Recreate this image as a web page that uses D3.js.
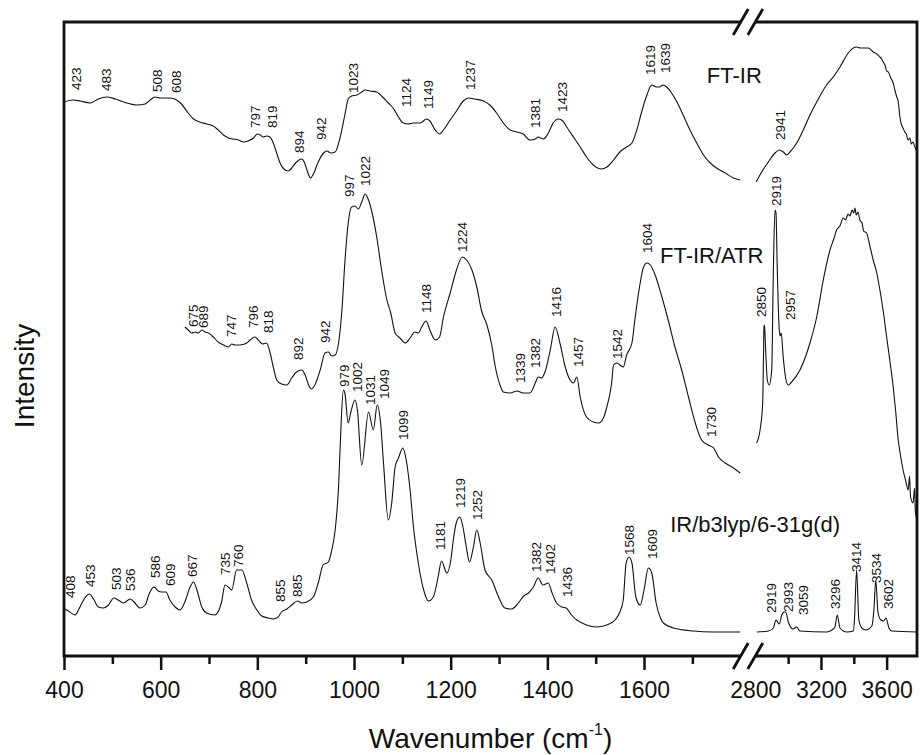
<!DOCTYPE html>
<html>
<head>
<meta charset="utf-8">
<script src="https://cdn.jsdelivr.net/npm/d3@7"></script>
<style>
  body { margin: 0; background: #fff; }
  svg { display: block; }
  text { font-family: Arial, "Liberation Sans", sans-serif; fill: #111; }
</style>
</head>
<body>
<svg id="chart" width="922" height="755"></svg>
<script>
// spectra: [wavenumber, intensity (arb. units)]
const ftir = [[400,554],[419,556],[433,555],[454,553],[471,557],[488,559],[506,557],[530,553],[550,551],[568,552],[581,557],[588,559],[599,558],[619,558],[633,556],[643,552],[657,543],[668,537],[681,534],[695,532],[709,530],[719,526],[730,521],[740,518],[750,517],[761,516],[771,514],[781,515],[792,518],[800,522],[806,521],[812,519],[819,520],[826,519],[833,513],[840,503],[847,493],[855,487],[864,485],[871,488],[881,494],[892,497],[897,494],[904,484],[910,478],[916,482],[926,494],[937,503],[944,505],[952,503],[961,504],[971,518],[981,541],[988,557],[995,560],[1006,561],[1016,564],[1023,566],[1033,565],[1047,564],[1057,560],[1071,553],[1081,548],[1092,539],[1102,533],[1112,532],[1123,533],[1137,533],[1150,537],[1157,535],[1168,526],[1177,522],[1185,526],[1199,536],[1212,545],[1226,555],[1237,558],[1250,557],[1268,555],[1281,551],[1295,543],[1309,533],[1323,526],[1337,524],[1350,522],[1364,516],[1375,517],[1381,519],[1392,517],[1402,523],[1412,533],[1423,537],[1432,535],[1440,529],[1454,519],[1468,509],[1481,499],[1495,491],[1512,487],[1523,489],[1537,496],[1550,504],[1564,509],[1575,513],[1585,526],[1595,544],[1606,561],[1616,571],[1626,569],[1632,569],[1639,571],[1647,569],[1657,563],[1668,554],[1681,541],[1695,526],[1709,513],[1723,501],[1737,493],[1750,488],[1768,483],[1785,478],[1799,476],
  [2805,474],[2839,484],[2879,494],[2920,503],[2946,506],[2971,504],[2991,501],[3011,504],[3052,513],[3092,526],[3133,541],[3174,554],[3234,571],[3275,579],[3316,589],[3366,603],[3397,608],[3417,609],[3440,608],[3458,608],[3488,608],[3518,604],[3540,602],[3559,599],[3570,597],[3579,594],[3590,591],[3600,585],[3610,584],[3625,578],[3640,573],[3650,566],[3660,560],[3671,554],[3680,540],[3691,531],[3700,528],[3711,524],[3720,522],[3730,516],[3742,518],[3750,512],[3760,514],[3772,509],[3780,506],[3786,504]];

const atr = [[650,329],[657,326],[664,323],[671,324],[678,323],[685,326],[692,324],[699,323],[709,319],[719,314],[730,311],[740,309],[747,312],[754,311],[764,311],[778,313],[785,316],[795,319],[802,316],[811,312],[819,313],[826,304],[833,289],[840,276],[850,272],[861,271],[871,278],[881,284],[892,286],[899,281],[906,271],[912,267],[919,271],[930,286],[940,303],[947,304],[954,300],[961,301],[968,313],[975,346],[981,393],[988,433],[995,449],[1002,450],[1009,447],[1016,454],[1023,462],[1030,456],[1037,444],[1047,419],[1057,386],[1068,356],[1076,343],[1085,323],[1095,318],[1106,313],[1116,318],[1126,324],[1133,323],[1140,329],[1149,335],[1157,326],[1168,316],[1177,319],[1185,339],[1199,363],[1212,386],[1224,399],[1233,396],[1244,386],[1254,369],[1264,345],[1275,331],[1285,311],[1292,290],[1302,271],[1309,264],[1323,263],[1337,265],[1350,263],[1364,263],[1375,273],[1381,279],[1388,278],[1395,284],[1406,306],[1416,329],[1426,313],[1437,289],[1447,276],[1454,273],[1461,279],[1468,259],[1481,239],[1495,234],[1506,233],[1516,238],[1523,249],[1533,273],[1537,291],[1544,293],[1550,291],[1557,289],[1564,301],[1575,313],[1581,336],[1592,373],[1599,389],[1606,393],[1613,391],[1623,381],[1637,359],[1650,336],[1664,309],[1678,286],[1692,259],[1706,233],[1719,216],[1733,211],[1744,208],[1754,199],[1768,193],[1785,188],[1799,183],
  [2808,213],[2829,226],[2845,253],[2850,300],[2853,329],[2856,331],[2860,318],[2865,299],[2873,276],[2885,271],[2900,286],[2910,386],[2920,446],[2926,443],[2934,386],[2946,326],[2952,320],[2958,323],[2970,299],[2987,276],[3001,271],[3021,274],[3072,286],[3133,313],[3174,339],[3214,376],[3255,406],[3280,418],[3295,426],[3315,430],[3336,438],[3350,436],[3365,442],[3376,440],[3390,446],[3400,443],[3407,448],[3415,441],[3425,444],[3437,436],[3450,433],[3460,425],[3478,423],[3498,410],[3518,396],[3540,383],[3559,366],[3580,344],[3600,319],[3620,295],[3640,269],[3655,245],[3670,217],[3685,200],[3700,186],[3715,176],[3731,166],[3740,180],[3745,160],[3761,153],[3770,168],[3775,145],[3785,136]];

const calc = [[402,47],[409,45],[423,41],[433,49],[443,58],[452,62],[461,57],[471,49],[481,48],[492,51],[503,58],[512,56],[523,53],[537,57],[545,54],[557,48],[568,51],[576,62],[586,69],[595,65],[602,64],[611,64],[619,56],[630,49],[640,46],[650,54],[661,69],[668,74],[675,66],[685,49],[695,43],[712,41],[726,54],[733,71],[740,69],[747,66],[757,86],[768,86],[778,73],[788,56],[799,46],[809,40],[823,38],[833,37],[843,39],[850,44],[861,47],[871,51],[883,55],[892,53],[902,54],[916,59],[926,73],[936,91],[947,94],[954,106],[961,126],[968,169],[973,229],[978,266],[981,263],[988,233],[993,243],[1002,256],[1007,246],[1016,191],[1030,244],[1040,226],[1048,251],[1055,233],[1061,193],[1071,136],[1078,153],[1085,189],[1092,198],[1101,208],[1109,193],[1116,166],[1123,129],[1133,93],[1143,68],[1154,55],[1164,59],[1174,79],[1181,95],[1192,83],[1200,95],[1206,118],[1212,134],[1219,139],[1225,130],[1232,110],[1239,94],[1247,109],[1254,126],[1261,113],[1271,86],[1285,76],[1299,59],[1312,48],[1326,47],[1340,53],[1351,60],[1361,63],[1371,69],[1381,78],[1391,71],[1402,73],[1409,64],[1419,53],[1430,49],[1439,48],[1450,41],[1461,36],[1468,34],[1481,31],[1502,29],[1523,31],[1540,36],[1550,44],[1557,56],[1563,93],[1569,99],[1575,93],[1583,59],[1592,51],[1600,66],[1609,88],[1616,83],[1625,53],[1634,38],[1640,33],[1661,28],[1702,25],[1743,24],[1799,24],
  [2809,24],[2880,25],[2910,28],[2926,36],[2946,32],[2961,41],[2975,44],[2985,44],[3001,34],[3031,27],[3052,29],[3072,25],[3235,24],[3267,26],[3285,29],[3299,41],[3316,28],[3356,24],[3397,25],[3404,36],[3417,86],[3431,36],[3449,28],[3474,26],[3510,30],[3522,45],[3534,76],[3547,44],[3565,36],[3582,35],[3596,38],[3614,28],[3632,25],[3785,24]];

// peak labels: [text, wavenumber position, intensity at label start]
const ftirLabels = [["423",426,566],["483",488,565],["508",592,564],["608",633,563],["797",795,528],["819",830,528],["894",887,503],["942",933,516],["1023",999,563],["1124",1109,549],["1149",1154,547],["1237",1240,566],["1381",1374,528],["1423",1430,544],["1619",1613,581],["1639",1644,583],["2941",2950,516]];
const atrLabels = [["675",668,329],["689",688,328],["747",747,319],["796",792,328],["818",823,323],["892",885,296],["942",940,313],["997",990,459],["1022",1023,470],["1148",1150,343],["1224",1223,404],["1339",1343,273],["1382",1374,288],["1416",1418,339],["1457",1464,289],["1542",1545,297],["1604",1606,403],["1730",1740,219],["2850",2839,339],["2919",2926,450],["2957",3011,336]];
const calcLabels = [["408",412,58],["453",454,69],["503",508,66],["536",538,65],["586",588,78],["609",619,70],["667",666,79],["735",733,81],["760",761,89],["855",847,54],["885",883,59],["979",979,269],["1002",1006,264],["1031",1033,251],["1049",1062,257],["1099",1102,216],["1181",1178,106],["1219",1219,148],["1252",1255,136],["1382",1378,84],["1402",1406,82],["1436",1441,59],["1568",1569,101],["1609",1617,97],["2919",2900,43],["2993",3001,44],["3059",3092,41],["3296",3285,47],["3414",3417,84],["3534",3539,73],["3602",3610,47]];

// spectrum names: [text, wavenumber, intensity]
const seriesNames = [["FT-IR",1730,573],["FT-IR/ATR",1633,393],["IR/b3lyp/6-31g(d)",1654,124]];

const leftMajor = [400, 600, 800, 1000, 1200, 1400, 1600];
const leftMinor = [500, 700, 900, 1100, 1300, 1500, 1700];
const rightMajor = [2800, 3200, 3600];
const rightMinor = [3000, 3400];

const svg = d3.select("#chart");

const xLeft = d3.scaleLinear().domain([400, 1800]).range([64, 740.7]);
const xRight = d3.scaleLinear().domain([2800, 3785]).range([755.3, 917]);
const y = d3.scaleLinear().domain([0, 634]).range([656, 22]);
const xPos = (w) => (w <= 1800 ? xLeft(w) : xRight(w));

const line = d3.line()
  .x((d) => xPos(d[0]))
  .y((d) => y(d[1]))
  .curve(d3.curveMonotoneX);

[ftir, atr, calc].forEach((s) => {
  [s.filter((d) => d[0] <= 1800), s.filter((d) => d[0] >= 2800)].forEach((part) => {
    svg.append("path")
      .attr("d", line(part))
      .attr("fill", "none")
      .attr("stroke", "#111")
      .attr("stroke-width", 1.1)
      .attr("stroke-linejoin", "round");
  });
});

// peak labels
const gLab = svg.append("g").attr("font-size", 13.5);
gLab.selectAll("text")
  .data([...ftirLabels, ...atrLabels, ...calcLabels])
  .join("text")
  .attr("transform", (d) => `translate(${xPos(d[1])},${y(d[2])}) rotate(-90)`)
  .attr("dy", "0.35em")
  .text((d) => d[0]);

svg.append("g").attr("font-size", 22)
  .selectAll("text")
  .data(seriesNames)
  .join("text")
  .attr("x", (d) => xPos(d[1]))
  .attr("y", (d) => y(d[2]))
  .text((d) => d[0]);

// frame with axis break
const x0 = xLeft(400), x1 = xLeft(1800), x2 = xRight(2800), x3 = xRight(3785);
const yb = y(0), yt = y(634);
const frame = svg.append("g").attr("stroke", "#111").attr("stroke-width", 2.8).attr("fill", "none");
frame.append("path").attr("d", `M${x1},${yt}H${x0}V${yb}H${x1}`);
frame.append("path").attr("d", `M${x2},${yt}H${x3}V${yb}H${x2}`);
[yt, yb].forEach((yy) => {
  [x1, x2].forEach((cx) => {
    frame.append("line")
      .attr("x1", cx - 7.5).attr("y1", yy + 13)
      .attr("x2", cx + 7.5).attr("y2", yy - 13);
  });
});

// axes
function drawAxis(scale, values, size, labels) {
  const ax = d3.axisBottom(scale)
    .tickValues(values)
    .tickSizeInner(size)
    .tickSizeOuter(0)
    .tickPadding(12)
    .tickFormat(labels ? d3.format("d") : "");
  const g = svg.append("g")
    .attr("transform", `translate(0,${yb})`)
    .call(ax);
  g.select(".domain").remove();
  g.selectAll(".tick line").attr("stroke", "#111").attr("stroke-width", 2.5);
  g.selectAll(".tick text")
    .attr("font-size", 23)
    .attr("font-family", "Arial, 'Liberation Sans', sans-serif")
    .attr("fill", "#111");
  return g;
}
drawAxis(xLeft, leftMajor, 14, true);
drawAxis(xLeft, leftMinor, 8, false);
const gr = drawAxis(xRight, rightMajor, 14, true);
gr.selectAll(".tick").filter((d) => d === 2800).select("line").remove();
drawAxis(xRight, rightMinor, 8, false);

// axis titles
const title = svg.append("text")
  .attr("x", (x0 + x3) / 2)
  .attr("y", 747.5)
  .attr("text-anchor", "middle")
  .attr("font-size", 28);
title.append("tspan").text("Wavenumber (cm");
title.append("tspan").attr("font-size", 16).attr("dy", -13).text("-1");
title.append("tspan").attr("dy", 13).text(")");

svg.append("text")
  .attr("transform", `translate(34,376) rotate(-90)`)
  .attr("text-anchor", "middle")
  .attr("font-size", 28)
  .text("Intensity");
</script>
</body>
</html>
